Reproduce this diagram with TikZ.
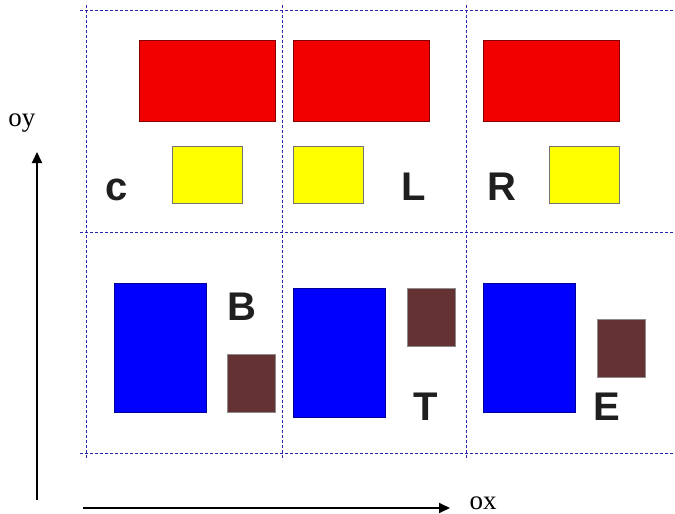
\documentclass[tikz,border=0pt]{standalone}
\usepackage{fontspec}
\setmainfont{Liberation Serif}
\newfontfamily\labelfont{Liberation Sans}
\usetikzlibrary{arrows.meta}
\definecolor{gridblue}{RGB}{40,40,170}
\definecolor{boxred}{RGB}{242,0,0}
\definecolor{boxyellow}{RGB}{255,255,0}
\definecolor{boxblue}{RGB}{0,0,255}
\definecolor{boxbrown}{RGB}{100,50,50}
\tikzset{
  gridline/.style={draw=gridblue, line width=0.8pt, dash pattern=on 3pt off 2pt},
  box/.style={rectangle, inner sep=0pt, outer sep=0pt, anchor=north west, line width=0.6pt},
  redbox/.style={box, fill=boxred, draw=black!45!boxred, minimum width=136pt, minimum height=81pt},
  yellowbox/.style={box, fill=boxyellow, draw=black!55, minimum width=70pt, minimum height=57pt},
  bluebox/.style={box, fill=boxblue, draw=black!40!boxblue, minimum width=92pt, minimum height=129pt},
  brownbox/.style={box, fill=boxbrown, draw=black!45, minimum width=48pt, minimum height=58pt},
  letter/.style={anchor=base, inner sep=0pt, font=\labelfont\bfseries\fontsize{40}{40}\selectfont, text=black!88},
  axis/.style={line width=2pt, -{Triangle[length=11pt,width=10pt]}},
  axislabel/.style={anchor=base, inner sep=0pt, font=\fontsize{27}{27}\selectfont}
}
\begin{document}
\begin{tikzpicture}[x=1pt, y=-1pt]
\useasboundingbox (0,0) rectangle (675,514);
% dashed grid
\foreach \yy in {10,232,453} \draw[gridline] (80,\yy) -- (673,\yy);
\foreach \xx in {86,282,466} \draw[gridline] (\xx,5) -- (\xx,460);
% top row
\node[redbox] (r1) at (139,40) {};
\node[redbox] (r2) at (293,40) {};
\node[redbox] (r3) at (483,40) {};
\node[yellowbox] (y1) at (172,146) {};
\node[yellowbox] (y2) at (293,146) {};
\node[yellowbox] (y3) at (549,146) {};
\node[letter] (lc) at (117,200) {c};
\node[letter] (lL) at (414,200) {L};
\node[letter] (lR) at (502,200) {R};
% bottom row
\node[bluebox] (b1) at (114,283) {};
\node[bluebox] (b2) at (293,288) {};
\node[bluebox] (b3) at (483,283) {};
\node[brownbox] (m1) at (227,354) {};
\node[brownbox] (m2) at (407,288) {};
\node[brownbox] (m3) at (597,319) {};
\node[letter] (lB) at (242,320) {B};
\node[letter] (lT) at (426,420) {T};
\node[letter] (lE) at (607,420) {E};
% axes
\coordinate (ybot) at (37,500);
\coordinate (ytop) at (37,152);
\coordinate (xleft) at (83,508);
\coordinate (xright) at (450,508);
\draw[axis] (ybot) -- (ytop);
\draw[axis] (xleft) -- (xright);
\node[axislabel] (oy) at (22,126) {oy};
\node[axislabel] (ox) at (483,509) {ox};
\end{tikzpicture}
\end{document}
